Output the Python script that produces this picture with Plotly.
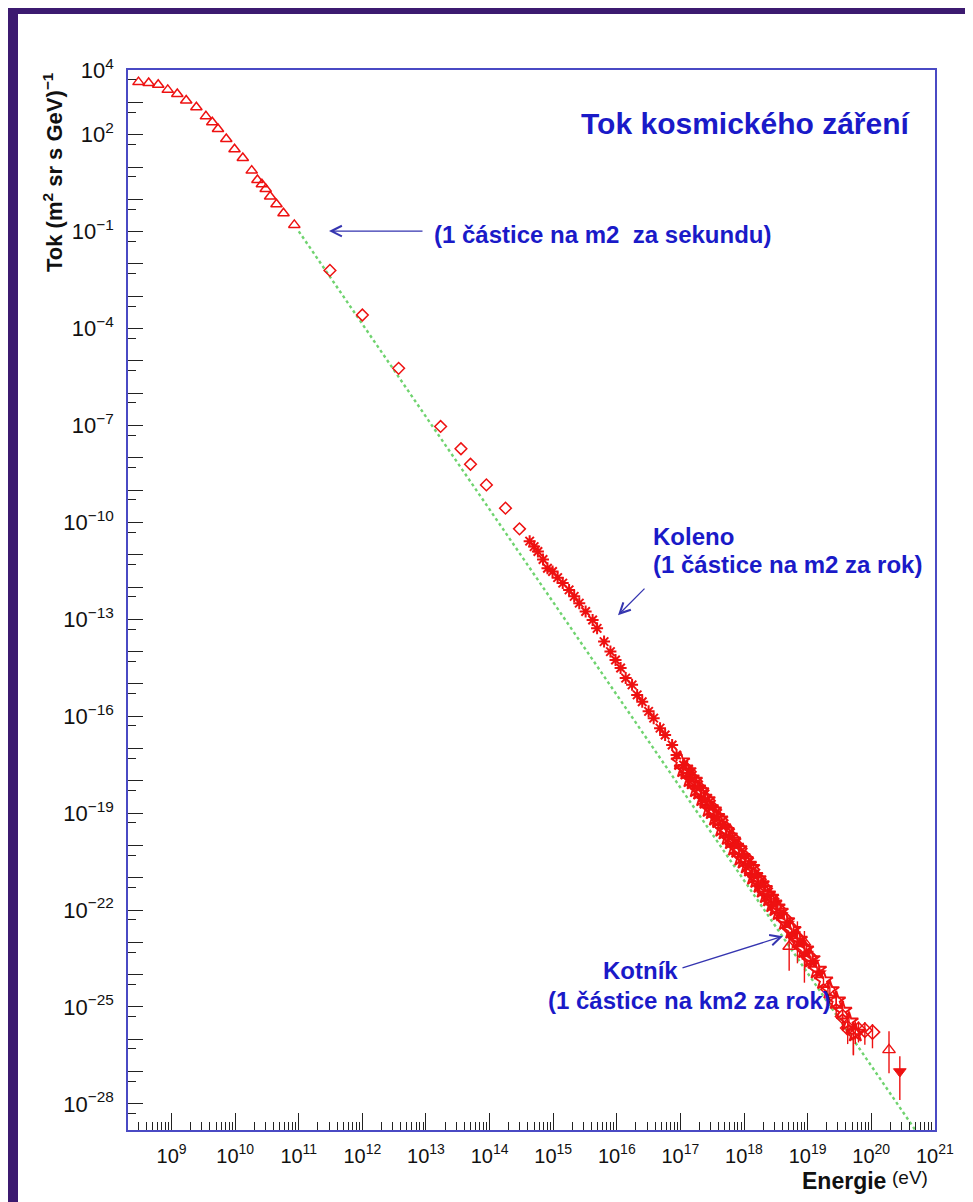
import plotly.graph_objects as go

# ---------------- data (log10 values) ----------------
# low-energy direct measurements (open triangles)
tri_logE = [8.48, 8.64, 8.79, 8.94, 9.09, 9.23, 9.39, 9.54, 9.64, 9.73, 9.86, 9.99,
            10.12, 10.26, 10.35, 10.42, 10.48, 10.55, 10.65, 10.76, 10.93]
tri_logF = [3.63, 3.60, 3.55, 3.39, 3.26, 3.06, 2.85, 2.57, 2.39, 2.18, 1.87, 1.55,
            1.28, 0.89, 0.60, 0.47, 0.32, 0.09, -0.15, -0.43, -0.79]

# balloon / satellite (open diamonds)
dia_logE = [11.49, 12.00, 12.57, 13.23, 13.55, 13.70, 13.95, 14.25, 14.47]
dia_logF = [-2.20, -3.58, -5.23, -7.03, -7.72, -8.20, -8.84, -9.56, -10.20]

# knee region air-shower data (asterisks)
ast_logE = [14.63, 14.70, 14.76, 14.84, 14.91, 14.99, 15.07, 15.15, 15.25, 15.33,
            15.41, 15.51, 15.62, 15.69, 15.80, 15.90, 15.98, 16.06, 16.14, 16.24,
            16.32, 16.40, 16.50, 16.58, 16.68, 16.76, 16.87, 16.94, 17.05, 17.13]
ast_logF = [-10.58, -10.75, -10.90, -11.15, -11.42, -11.52, -11.71, -11.88, -12.09, -12.29,
            -12.50, -12.76, -13.02, -13.28, -13.69, -14.00, -14.26, -14.51, -14.82, -15.03,
            -15.34, -15.55, -15.85, -16.06, -16.37, -16.58, -16.89, -17.20, -17.51, -17.76]

# dense band 10^17 - 10^18.5 (open stars)
sa_logE = [17.00, 17.05, 17.10, 17.15, 17.20, 17.25, 17.30, 17.35, 17.40, 17.45, 17.50,
           17.55, 17.60, 17.65, 17.70, 17.75, 17.80, 17.85, 17.90, 17.95, 18.00, 18.05,
           18.10, 18.15, 18.20, 18.25, 18.30, 18.35, 18.40, 18.45, 18.50]
sa_logF = [-17.40, -17.62, -17.70, -17.93, -18.00, -18.24, -18.32, -18.52, -18.60, -18.85, -18.92,
           -19.12, -19.20, -19.46, -19.55, -19.72, -19.85, -20.05, -20.12, -20.36, -20.45, -20.60,
           -20.70, -20.95, -21.05, -21.20, -21.35, -21.52, -21.62, -21.80, -21.92]

# dense band (open diamonds)
db_logE = [17.12, 17.22, 17.32, 17.42, 17.52, 17.62, 17.72, 17.82, 17.92, 18.02,
           18.12, 18.22, 18.32, 18.42, 18.52, 18.62, 18.72, 18.82, 18.92, 19.02]
db_logF = [-17.72, -18.02, -18.30, -18.62, -18.90, -19.22, -19.50, -19.80, -20.10, -20.40,
           -20.75, -21.05, -21.33, -21.65, -21.95, -22.25, -22.55, -22.85, -23.15, -23.45]

# dense band (filled stars)
fs_logE = [17.18, 17.28, 17.38, 17.48, 17.58, 17.68, 17.78, 17.88, 17.98, 18.08, 18.18,
           18.28, 18.38, 18.48, 18.58, 18.68, 18.78, 18.88, 18.98, 19.08, 19.18]
fs_logF = [-17.95, -18.22, -18.58, -18.82, -19.15, -19.40, -19.74, -20.00, -20.33, -20.62, -20.95,
           -21.22, -21.56, -21.82, -22.15, -22.42, -22.75, -23.02, -23.35, -23.62, -23.95]

# ankle region with errors (open stars), errors in decades
sc_logE = [18.55, 18.65, 18.75, 18.85, 18.95, 19.05, 19.15, 19.25, 19.35, 19.45, 19.55, 19.65, 19.75]
sc_logF = [-22.05, -22.35, -22.62, -22.92, -23.22, -23.52, -23.85, -24.18, -24.48, -24.80, -25.12, -25.45, -25.80]
sc_err = [0.05, 0.05, 0.06, 0.07, 0.08, 0.09, 0.10, 0.12, 0.15, 0.18, 0.22, 0.28, 0.35]

# highest energies (open diamonds, large errors)
hd_logE = [19.32, 19.45, 19.55, 19.63, 19.72, 19.80, 19.90, 20.02]
hd_logF = [-24.45, -24.85, -25.30, -25.65, -25.78, -25.70, -25.72, -25.78]
hd_up = [0.25, 0.30, 0.30, 0.35, 0.30, 0.25, 0.25, 0.25]
hd_dn = [0.30, 0.40, 0.45, 0.50, 0.70, 0.40, 0.45, 0.50]

# open triangles with errors
ht_logE = [18.71, 18.84, 18.95, 19.72, 20.28]
ht_logF = [-23.13, -22.80, -23.00, -25.75, -26.33]
ht_up = [0.30, 0.45, 0.35, 0.20, 0.58]
ht_dn = [0.75, 0.85, 1.25, 0.75, 0.72]

# filled down triangle
fd_logE = [20.45]
fd_logF = [-27.00]
fd_up = [0.47]
fd_dn = [0.88]

# power-law guide line (endpoints)
line_logE = [11.0, 20.7]
line_logF = [-0.99, -28.83]

x_tick_exp = list(range(9, 22))
y_label_exp = [4, 2, -1, -4, -7, -10, -13, -16, -19, -22, -25, -28]

# ---------------- styling ----------------
RED = "#ee1111"
BLUE_TXT = "#1a1ac8"
FRAME = "#4a4ac4"
FONT = "Liberation Sans, Arial, sans-serif"

W, H = 973, 1202
L, R, T, B = 120, 927, 62, 1121.7


def px(x):
    return (x - L) / (R - L)


def py(y):
    return (B - y) / (B - T)


def p10(v):
    return [10.0 ** a for a in v]


def errs(f, up, dn):
    plus = [10.0 ** a * (10.0 ** u - 1) for a, u in zip(f, up)]
    minus = [10.0 ** a * (1 - 10.0 ** (-d)) for a, d in zip(f, dn)]
    return plus, minus


fig = go.Figure()

fig.add_trace(go.Scatter(x=p10(line_logE), y=p10(line_logF), mode="lines",
                         line=dict(color="#6fd36f", width=2.4, dash="dot"), hoverinfo="skip"))

fig.add_trace(go.Scatter(x=p10(tri_logE), y=p10(tri_logF), mode="markers",
                         marker=dict(symbol="triangle-up-open", size=10, color=RED,
                                     line=dict(color=RED, width=1.5))))
fig.add_trace(go.Scatter(x=p10(dia_logE), y=p10(dia_logF), mode="markers",
                         marker=dict(symbol="diamond-open", size=9, color=RED,
                                     line=dict(color=RED, width=1.5))))
fig.add_trace(go.Scatter(x=p10(ast_logE), y=p10(ast_logF), mode="markers",
                         marker=dict(symbol="asterisk-open", size=10, color=RED,
                                     line=dict(color=RED, width=2.0))))
fig.add_trace(go.Scatter(x=p10(sa_logE), y=p10(sa_logF), mode="markers",
                         marker=dict(symbol="star-open", size=14, color=RED,
                                     line=dict(color=RED, width=1.9))))
fig.add_trace(go.Scatter(x=p10(db_logE), y=p10(db_logF), mode="markers",
                         marker=dict(symbol="diamond-open", size=12, color=RED,
                                     line=dict(color=RED, width=1.9))))
fig.add_trace(go.Scatter(x=p10(fs_logE), y=p10(fs_logF), mode="markers",
                         marker=dict(symbol="star", size=11, color=RED,
                                     line=dict(color=RED, width=0.5))))

sc_p, sc_m = errs(sc_logF, sc_err, sc_err)
fig.add_trace(go.Scatter(x=p10(sc_logE), y=p10(sc_logF), mode="markers",
                         marker=dict(symbol="star-open", size=14, color=RED,
                                     line=dict(color=RED, width=1.9)),
                         error_y=dict(type="data", array=sc_p, arrayminus=sc_m, symmetric=False,
                                      color=RED, thickness=1.4, width=0)))
hd_p, hd_m = errs(hd_logF, hd_up, hd_dn)
fig.add_trace(go.Scatter(x=p10(hd_logE), y=p10(hd_logF), mode="markers",
                         marker=dict(symbol="diamond-open", size=11, color=RED,
                                     line=dict(color=RED, width=1.5)),
                         error_y=dict(type="data", array=hd_p, arrayminus=hd_m, symmetric=False,
                                      color=RED, thickness=1.4, width=0)))
ht_p, ht_m = errs(ht_logF, ht_up, ht_dn)
fig.add_trace(go.Scatter(x=p10(ht_logE), y=p10(ht_logF), mode="markers",
                         marker=dict(symbol="triangle-up-open", size=11, color=RED,
                                     line=dict(color=RED, width=1.4)),
                         error_y=dict(type="data", array=ht_p, arrayminus=ht_m, symmetric=False,
                                      color=RED, thickness=1.4, width=0)))
fd_p, fd_m = errs(fd_logF, fd_up, fd_dn)
fig.add_trace(go.Scatter(x=p10(fd_logE), y=p10(fd_logF), mode="markers",
                         marker=dict(symbol="triangle-down", size=11, color=RED,
                                     line=dict(color=RED, width=1)),
                         error_y=dict(type="data", array=fd_p, arrayminus=fd_m, symmetric=False,
                                      color=RED, thickness=1.4, width=0)))

# ---------------- axes ----------------
x_minor = [k * 10.0 ** d for d in range(8, 21) for k in range(2, 10)]
y_major = [10.0 ** n for n in range(4, -29, -1)]
y_text = [("10<sup>%s</sup>" % str(n).replace("-", "\u2212")) if n in y_label_exp else ""
          for n in range(4, -29, -1)]
y_minor = [5 * 10.0 ** (n - 1) for n in range(4, -29, -1)]

fig.update_xaxes(type="log", range=[8.315, 21.003], showline=True, mirror=True,
                 linecolor=FRAME, linewidth=1.6, showgrid=False, zeroline=False,
                 ticks="inside", ticklen=17, tickwidth=1.2, tickcolor="#222",
                 tickmode="array", tickvals=[10.0 ** e for e in x_tick_exp],
                 ticktext=["10<sup>%d</sup>" % e for e in x_tick_exp],
                 tickfont=dict(family=FONT, size=20, color="#111"),
                 ticklabelstandoff=7,
                 minor=dict(ticks="inside", ticklen=8, tickwidth=1.1, tickcolor="#222",
                            tickmode="array", tickvals=x_minor, showgrid=False))
fig.update_yaxes(type="log", range=[-28.81, 4.005], showline=True, mirror=True,
                 linecolor=FRAME, linewidth=1.6, showgrid=False, zeroline=False,
                 ticks="inside", ticklen=15, tickwidth=1.2, tickcolor="#222",
                 tickmode="array", tickvals=y_major, ticktext=y_text,
                 tickfont=dict(family=FONT, size=22, color="#111"),
                 ticklabelstandoff=8,
                 minor=dict(ticks="inside", ticklen=8, tickwidth=1.1, tickcolor="#222",
                            tickmode="array", tickvals=y_minor, showgrid=False))

# ---------------- annotations ----------------
ann = []


def text(x, y, s, size, xanchor="left", color=BLUE_TXT, bold=True, **kw):
    ann.append(dict(x=px(x), y=py(y), xref="paper", yref="paper", showarrow=False,
                    text=("<b>%s</b>" % s) if bold else s, xanchor=xanchor, yanchor="middle",
                    font=dict(family=FONT, size=size, color=color), **kw))


def arrow(hx, hy, tx, ty):
    ann.append(dict(x=px(hx), y=py(hy), xref="paper", yref="paper", text="", showarrow=True,
                    ax=tx - hx, ay=ty - hy, arrowhead=5, arrowsize=1.6, arrowwidth=1.3,
                    arrowcolor="#3535b0", standoff=0, startstandoff=0))


text(905, 115, "Tok kosmického záření", 30, xanchor="right")
text(424, 226, "(1 částice na m2\u00a0 za sekundu)", 24)
arrow(321, 223, 416, 223)
text(643, 528, "Koleno", 24)
text(643, 556, "(1 částice na m2 za rok)", 24)
arrow(610, 607, 638, 579)
text(593, 962, "Kotník", 24)
text(825, 992, "(1 částice na km2 za rok)", 24, xanchor="right")
arrow(775, 928, 673, 960)

# axis titles
ann.append(dict(x=px(45), y=py(62), xref="paper", yref="paper", showarrow=False,
                text="<b>Tok (m<sup>2</sup> sr s GeV)<sup>\u22121</sup></b>", textangle=-90,
                xanchor="center", yanchor="top",
                font=dict(family=FONT, size=22, color="#111")))
text(880, 1173, "Energie", 23, xanchor="right", color="#111")
text(882, 1169, "(eV)", 19, xanchor="left", color="#111", bold=False)

fig.update_layout(
    width=W, height=H,
    margin=dict(l=L, r=W - R, t=T, b=H - B),
    paper_bgcolor="#3c1a70", plot_bgcolor="white",
    showlegend=False, annotations=ann,
    shapes=[dict(type="rect", xref="paper", yref="paper", x0=px(10), x1=px(965),
                 y0=py(1202), y1=py(6), fillcolor="white", line=dict(width=0), layer="below")],
)

fig.write_html("out.html")
